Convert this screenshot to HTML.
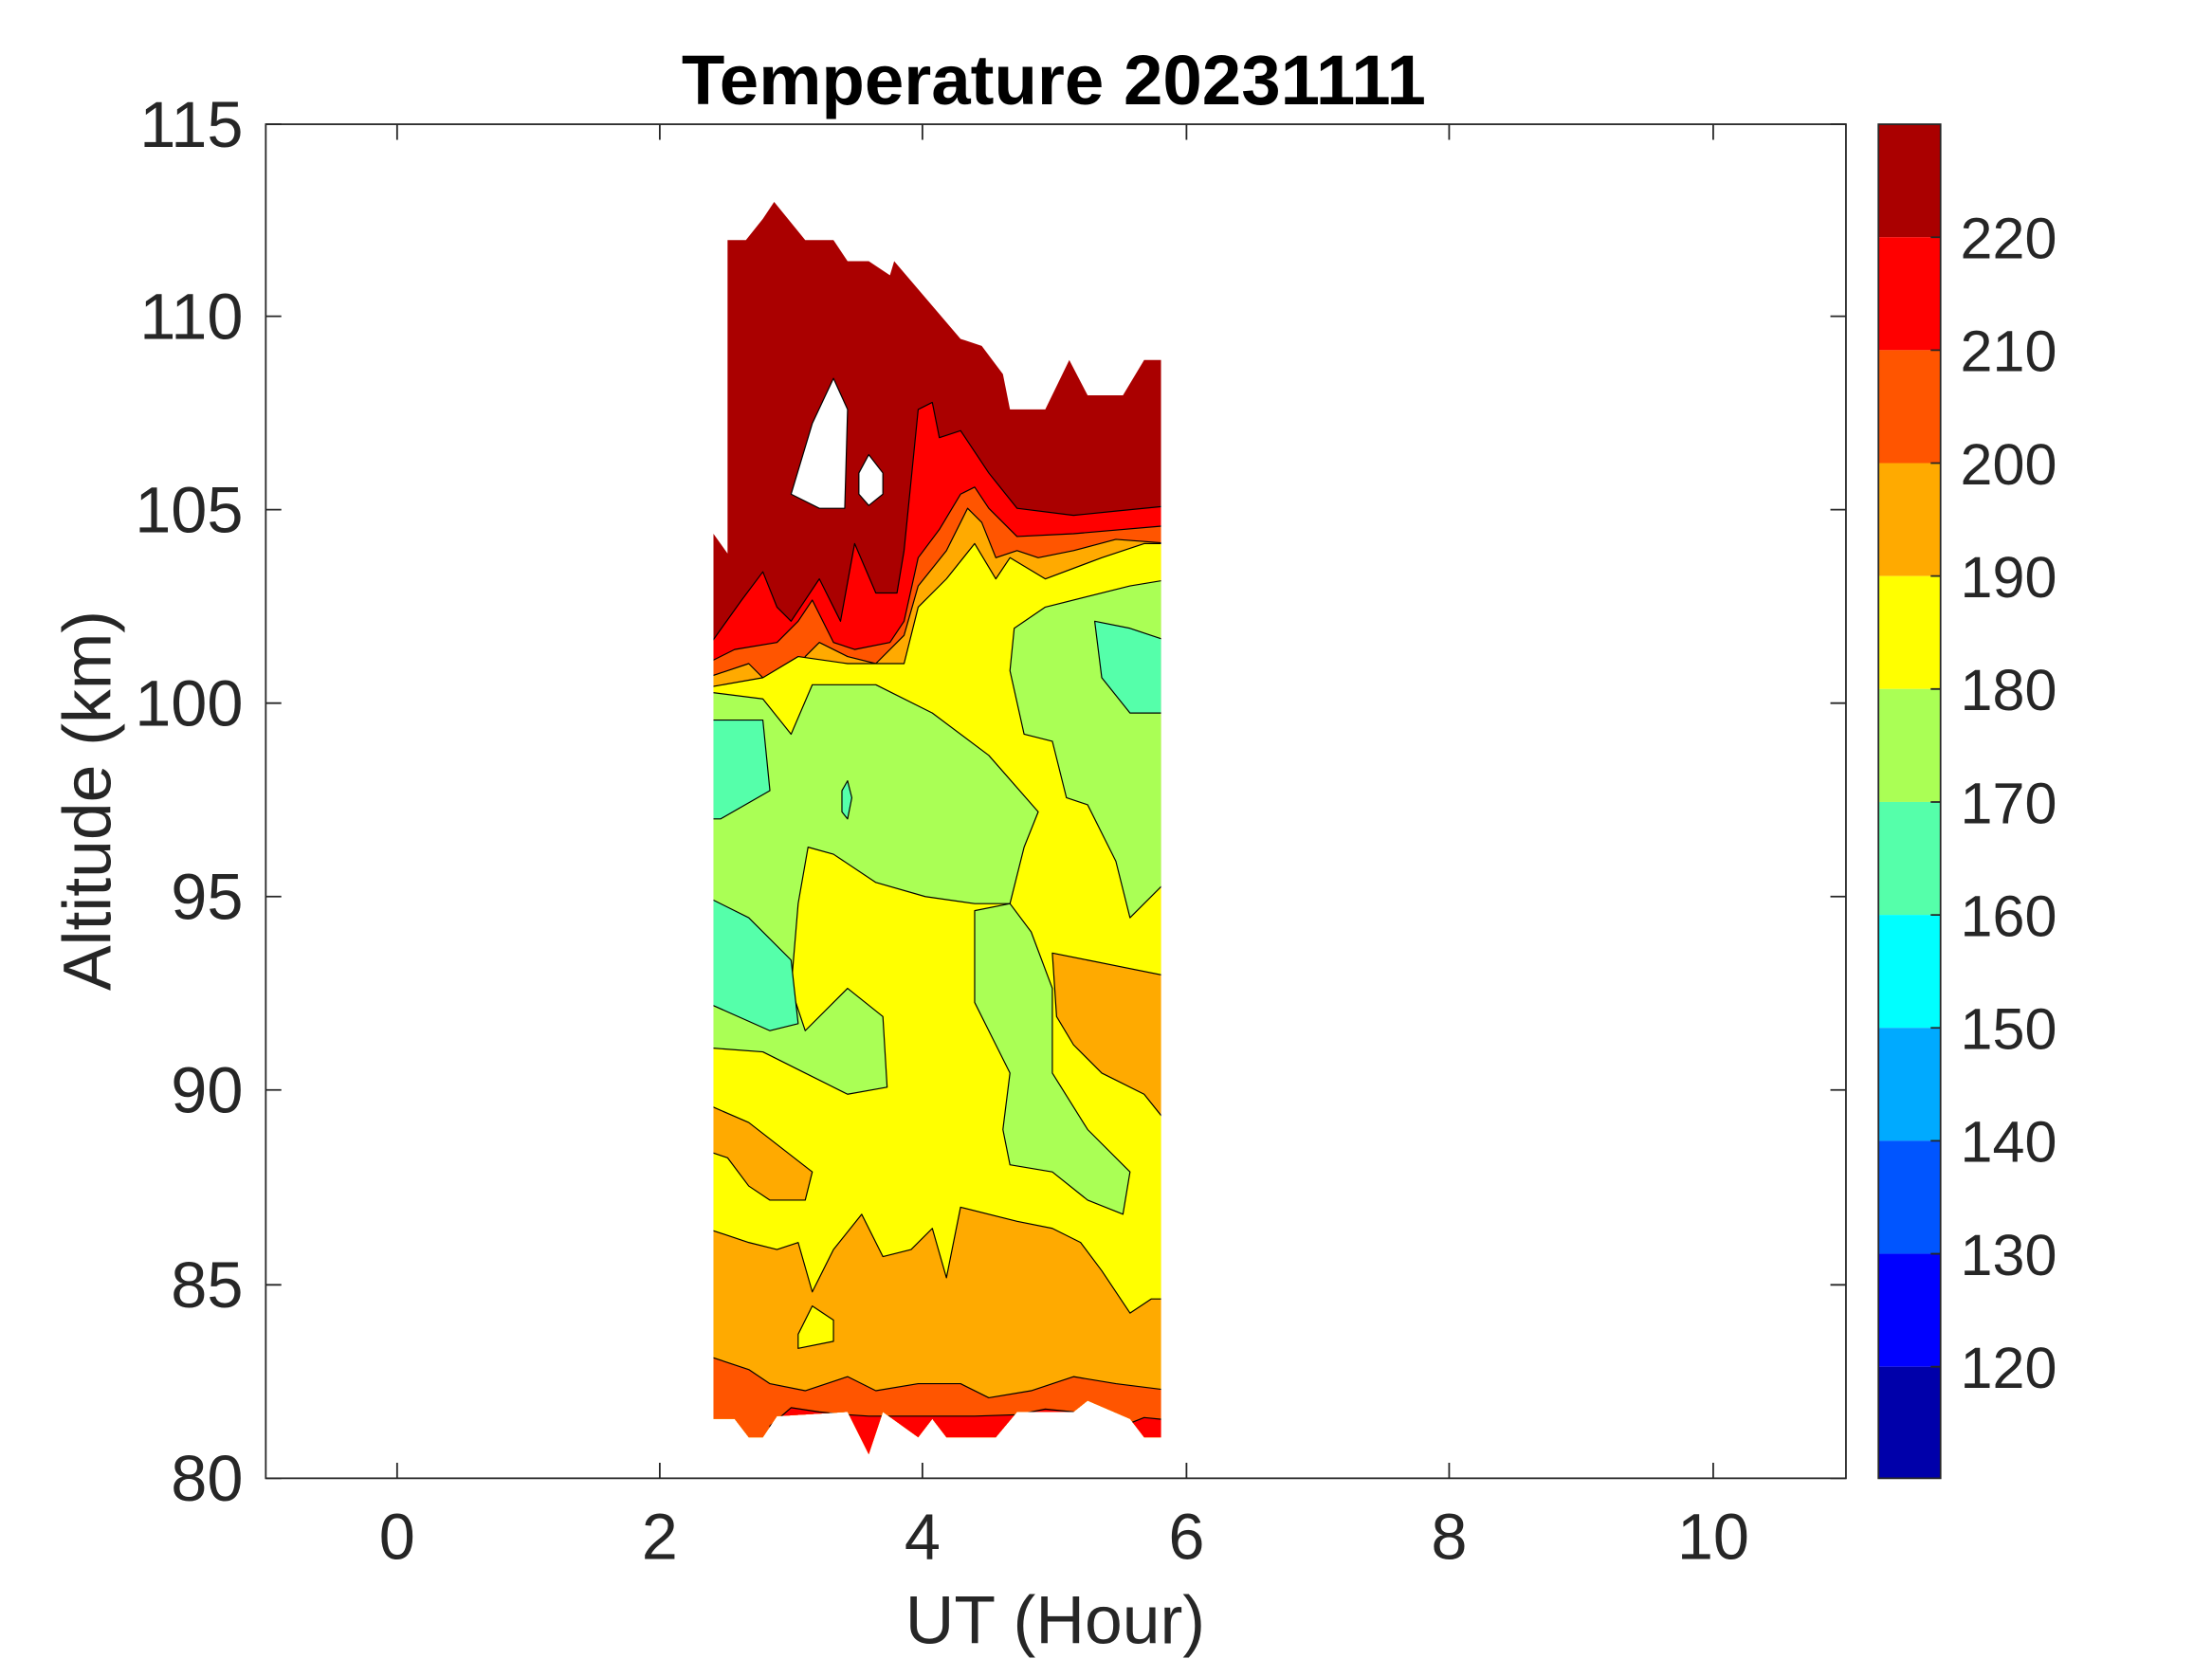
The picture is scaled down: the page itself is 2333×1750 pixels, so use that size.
<!DOCTYPE html>
<html><head><meta charset="utf-8"><style>html,body{margin:0;padding:0;background:#fff}svg{display:block}</style></head>
<body>
<svg xmlns="http://www.w3.org/2000/svg" width="2333" height="1750" viewBox="0 0 1566 1175" font-family="Liberation Sans, sans-serif">
<defs>
<clipPath id="c"><polygon points="505,378 515,392 515,170 528,170 540,155 548,143 570,170 590,170 600,185 615,185 630,195 633,185 680,240 695,245 710,265 715,290 740,290 757,255 770,280 795,280 810,255 822,255 822,1018 810,1018 800,1005 770,992 760,1000 720,1000 705,1018 670,1018 660,1005 650,1018 625,1000 615,1030 600,1000 550,1003 540,1018 530,1018 520,1005 505,1005"/></clipPath>
</defs>
<rect width="1566" height="1175" fill="#fff"/>
<g stroke="#000" stroke-width="0.8" stroke-linejoin="round" clip-path="url(#c)">
<rect x="500" y="130" width="330" height="910" fill="#AA0000"/>
<polygon fill="#fff" points="560,350 575,300 590,268 600,290 598,360 580,360"/>
<polygon fill="#fff" points="608,335 615,322 625,335 625,350 615,358 608,350"/>
<polygon fill="#FF0000" points="500,460 525,425 540,405 550,430 560,440 580,410 595,440 605,385 620,420 635,420 640,390 650,290 660,285 665,310 680,305 690,320 700,335 720,360 760,365 790,362 830,358 830,1040 500,1040"/>
<polygon fill="#FF5500" points="500,470 520,460 550,455 565,440 575,425 590,455 605,460 630,455 640,440 650,395 665,375 680,350 690,345 700,360 720,380 760,378 830,372 830,1040 500,1040"/>
<polygon fill="#FFAA00" points="500,480 530,470 560,500 570,465 580,455 600,465 620,470 640,450 650,415 670,390 685,360 695,370 705,395 720,390 735,395 760,390 790,382 830,385 830,1040 500,1040"/>
<polygon fill="#FF5500" points="676,410 684,398 690,405 688,418 678,418"/>
<polygon fill="#FFFF00" points="500,487 540,480 565,465 600,470 640,470 650,430 670,410 690,385 705,410 715,395 740,410 780,395 810,385 830,385 830,1040 500,1040"/>
<polygon fill="#AAFF55" points="500,490 540,495 560,520 575,485 620,485 660,505 700,535 735,575 725,600 715,640 690,640 655,635 620,625 590,605 572,600 565,640 560,700 570,730 600,700 625,720 628,770 600,775 570,760 540,745 500,742"/>
<polygon fill="#AAFF55" points="690,645 715,640 730,660 745,700 745,760 770,800 800,830 795,860 770,850 745,830 715,825 710,800 715,760 700,730 690,710"/>
<polygon fill="#AAFF55" points="718,445 740,430 800,415 830,410 830,620 800,650 790,610 770,570 755,565 745,525 725,520 715,475"/>
<polygon fill="#55FFAA" points="500,510 540,510 545,560 510,580 500,580"/>
<polygon fill="#55FFAA" points="500,635 530,650 560,680 565,725 545,730 500,710"/>
<polygon fill="#55FFAA" points="775,440 800,445 830,455 830,505 800,505 780,480"/>
<polygon fill="#55FFAA" points="596,560 600,553 603,565 600,580 596,575"/>
<polygon fill="#FFAA00" points="745,675 770,680 830,692 830,800 810,775 780,760 760,740 748,720"/>
<polygon fill="#FFAA00" points="500,782 530,795 575,830 570,850 545,850 530,840 515,820 500,815"/>
<polygon fill="#FFAA00" points="500,870 530,880 550,885 565,880 575,915 590,885 610,860 625,890 645,885 660,870 670,905 680,855 720,865 745,870 765,880 780,900 800,930 815,920 830,920 830,1040 500,1040"/>
<polygon fill="#FFFF00" points="565,945 575,925 590,935 590,950 565,955"/>
<polygon fill="#FF5500" points="500,960 530,970 545,980 570,985 600,975 620,985 650,980 680,980 700,990 730,985 760,975 790,980 830,985 830,1040 500,1040"/>
<polygon fill="#FF0000" points="545,1010 560,997 580,1000 600,1002 615,1003 640,1003 660,1003 690,1003 720,1002 740,998 760,1000 760,1040 545,1040"/>
<polygon fill="#FF0000" points="790,1012 810,1004 830,1006 830,1040 790,1040"/>
</g>
<g stroke="#262626" stroke-width="1.2" fill="none">
<rect x="188" y="88" width="1119" height="959"/>
<path d="M281,1047v-11M467,1047v-11M653,1047v-11M840,1047v-11M1026,1047v-11M1213,1047v-11
M281,88v11M467,88v11M653,88v11M840,88v11M1026,88v11M1213,88v11
M188,1047h11M188,910h11M188,772h11M188,635h11M188,498h11M188,361h11M188,224h11M188,88h11
M1307,1047h-11M1307,910h-11M1307,772h-11M1307,635h-11M1307,498h-11M1307,361h-11M1307,224h-11M1307,88h-11"/>
</g>
<g fill="#262626" font-size="46" text-anchor="middle">
<text x="281" y="1104">0</text><text x="467" y="1104">2</text><text x="653" y="1104">4</text><text x="840" y="1104">6</text><text x="1026" y="1104">8</text><text x="1213" y="1104">10</text>
</g>
<g fill="#262626" font-size="46" text-anchor="end">
<text x="172" y="1063">80</text><text x="172" y="926">85</text><text x="172" y="788">90</text><text x="172" y="651">95</text><text x="172" y="514">100</text><text x="172" y="377">105</text><text x="172" y="240">110</text><text x="172" y="104">115</text>
</g>
<text x="747" y="1164" font-size="48" fill="#262626" text-anchor="middle">UT (Hour)</text>
<text transform="translate(78,567) rotate(-90)" font-size="48" fill="#262626" text-anchor="middle">Altitude (km)</text>
<text x="746" y="74" font-size="50" font-weight="bold" fill="#000" text-anchor="middle">Temperature 20231111</text>
<g>
<rect x="1330" y="88" width="44" height="80" fill="#AA0000"/>
<rect x="1330" y="168" width="44" height="80" fill="#FF0000"/>
<rect x="1330" y="248" width="44" height="80" fill="#FF5500"/>
<rect x="1330" y="328" width="44" height="80" fill="#FFAA00"/>
<rect x="1330" y="408" width="44" height="80" fill="#FFFF00"/>
<rect x="1330" y="488" width="44" height="80" fill="#AAFF55"/>
<rect x="1330" y="568" width="44" height="80" fill="#55FFAA"/>
<rect x="1330" y="648" width="44" height="80" fill="#00FFFF"/>
<rect x="1330" y="728" width="44" height="80" fill="#00AAFF"/>
<rect x="1330" y="808" width="44" height="80" fill="#0055FF"/>
<rect x="1330" y="888" width="44" height="80" fill="#0000FF"/>
<rect x="1330" y="968" width="44" height="79" fill="#0000AA"/>
<rect x="1330" y="88" width="44" height="959" fill="none" stroke="#262626" stroke-width="1.2"/>
<path stroke="#262626" stroke-width="1.2" d="M1374,168h-7M1374,248h-7M1374,328h-7M1374,408h-7M1374,488h-7M1374,568h-7M1374,648h-7M1374,728h-7M1374,808h-7M1374,888h-7M1374,968h-7"/>
</g>
<g fill="#262626" font-size="41">
<text x="1388" y="183">220</text><text x="1388" y="263">210</text><text x="1388" y="343">200</text><text x="1388" y="423">190</text><text x="1388" y="503">180</text><text x="1388" y="583">170</text><text x="1388" y="663">160</text><text x="1388" y="743">150</text><text x="1388" y="823">140</text><text x="1388" y="903">130</text><text x="1388" y="983">120</text>
</g>
</svg>
</body></html>
